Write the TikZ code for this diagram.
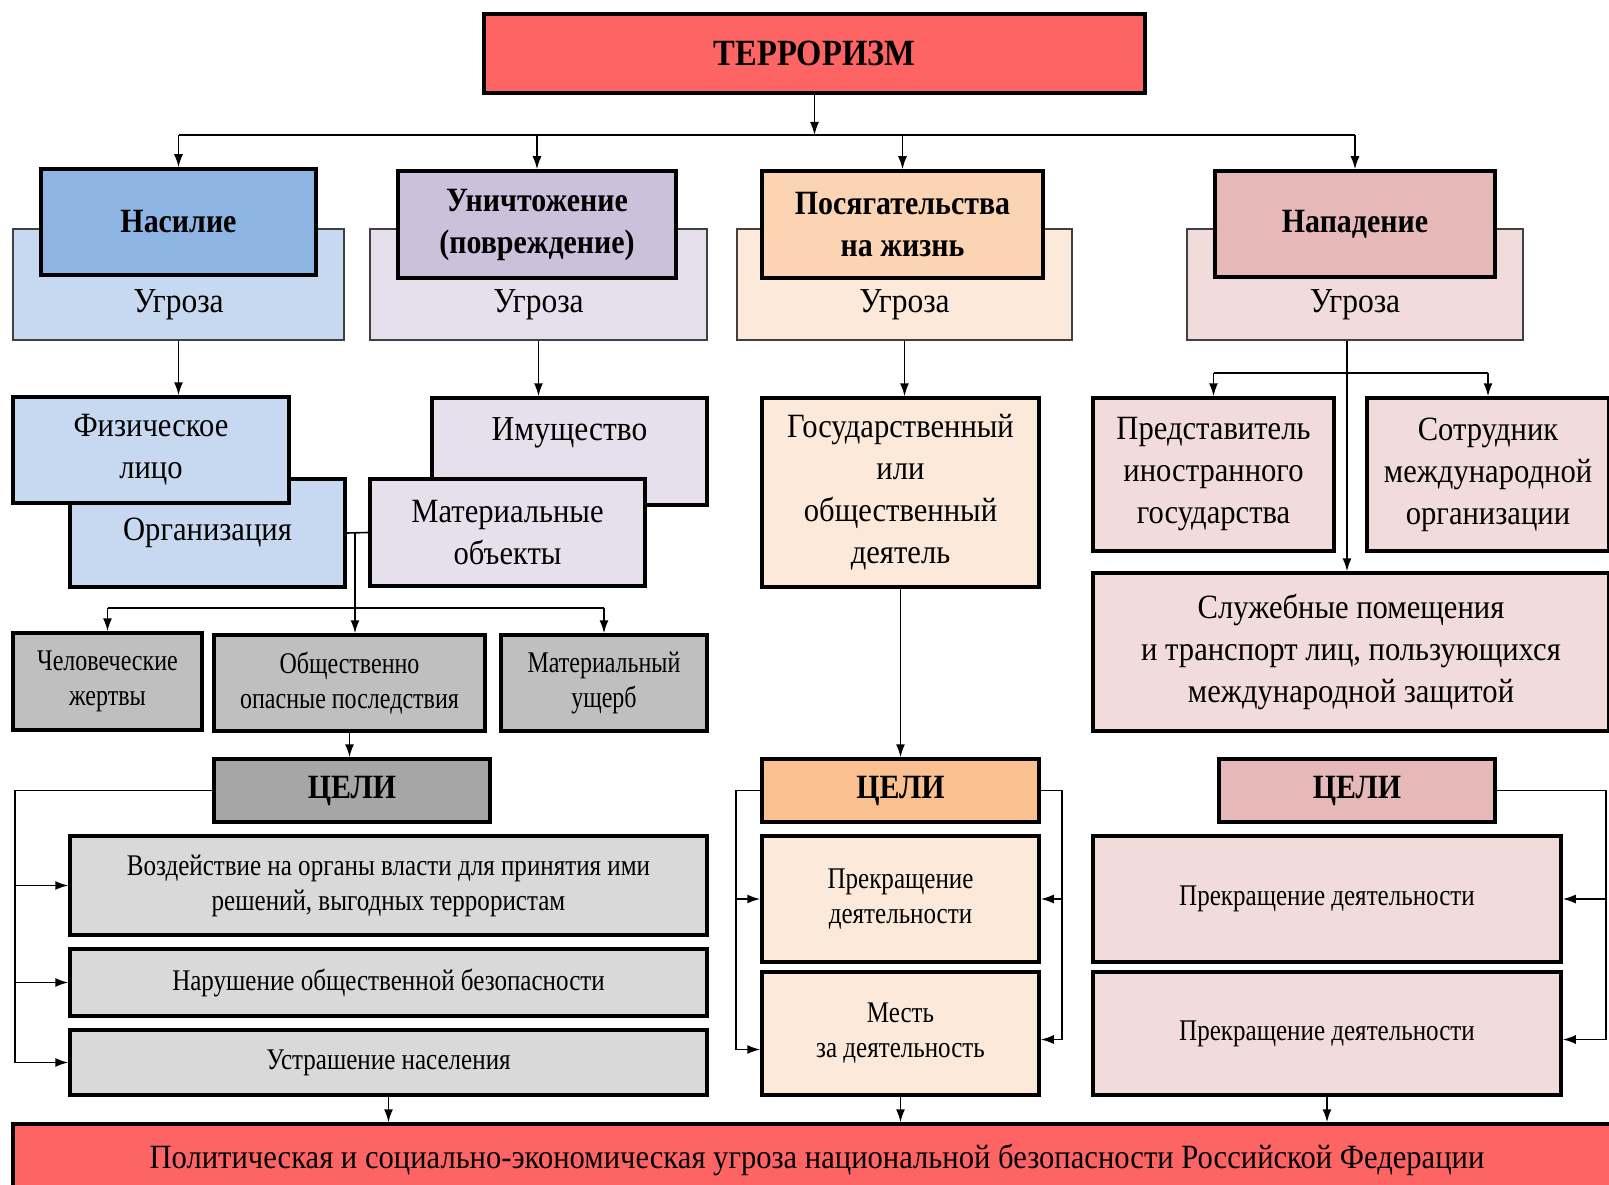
\documentclass[tikz,border=0pt]{standalone}
\usepackage{fontspec}
\setmainfont[FakeStretch=0.9, BoldFeatures={FakeStretch=0.88}]{Liberation Serif}
\newfontfamily\narrowfont[FakeStretch=0.8]{Liberation Serif}
\newfontfamily\goalfont[FakeStretch=0.835]{Liberation Serif}
\usetikzlibrary{arrows.meta}

\definecolor{terrred}{HTML}{FF6464}
\definecolor{bluedk}{HTML}{8DB4E2}
\definecolor{bluelt}{HTML}{C6D9F1}
\definecolor{lilacdk}{HTML}{CCC0DA}
\definecolor{lilaclt}{HTML}{E5E0EC}
\definecolor{peachdk}{HTML}{FBD4B4}
\definecolor{peachlt}{HTML}{FDE9D9}
\definecolor{orangecel}{HTML}{FAC090}
\definecolor{rosedk}{HTML}{E6B9B8}
\definecolor{roselt}{HTML}{F2DCDB}
\definecolor{graymid}{HTML}{BFBFBF}
\definecolor{graydk}{HTML}{A6A6A6}
\definecolor{graylt}{HTML}{D9D9D9}

\tikzset{
  box/.style={draw=black, line width=3.5pt, align=center, inner sep=0pt, font=\fontsize{34}{42}\selectfont},
  smallbox/.style={box, font=\narrowfont\fontsize{30}{35}\selectfont},
  goalbox/.style={box, font=\goalfont\fontsize{30}{35}\selectfont},
  backbox/.style={draw=black!75, line width=2pt, inner sep=0pt},
  txt/.style={inner sep=0pt, font=\fontsize{35}{42}\selectfont},
  arr/.style={line width=1.6pt, -{Latex[length=13pt,width=9pt]}},
  link/.style={line width=1.6pt}
}

\begin{document}
\begin{tikzpicture}[x=1pt,y=-1pt]
\useasboundingbox (0,0) rectangle (1609,1185);
\clip (0,0) rectangle (1609,1185);

% Top and bottom bars
\node[box, fill=terrred, minimum width=661pt, minimum height=79pt, font=\fontsize{37}{42}\selectfont] (terr) at (814.5,53.5) {\bfseries ТЕРРОРИЗМ};
\node[box, fill=terrred, minimum width=1608pt, minimum height=72pt] (bar) at (817,1160) {Политическая и социально-экономическая угроза национальной безопасности Российской Федерации};

% Four kinds of acts, with the threat behind each
\node[backbox, fill=bluelt, minimum width=331pt, minimum height=111pt] (vb1) at (178.5,284.5) {};
\node[backbox, fill=lilaclt, minimum width=337pt, minimum height=111pt] (vb2) at (538.5,284.5) {};
\node[backbox, fill=peachlt, minimum width=335pt, minimum height=111pt] (vb3) at (904.5,284.5) {};
\node[backbox, fill=roselt, minimum width=336pt, minimum height=111pt] (vb4) at (1355,284.5) {};
\node[txt] (ug1) at (178.5,305) {Угроза};
\node[txt] (ug2) at (538.5,305) {Угроза};
\node[txt] (ug3) at (904.5,305) {Угроза};
\node[txt] (ug4) at (1355,305) {Угроза};
\node[box, fill=bluedk, minimum width=275pt, minimum height=106pt] (f1) at (178.5,222) {\bfseries Насилие};
\node[box, fill=lilacdk, minimum width=278pt, minimum height=107pt] (f2) at (537,224.5) {\bfseries Уничтожение\\\bfseries (повреждение)};
\node[box, fill=peachdk, minimum width=281pt, minimum height=107pt] (f3) at (902.5,224.5) {\bfseries Посягательства\\\bfseries на жизнь};
\node[box, fill=rosedk, minimum width=280pt, minimum height=106pt] (f4) at (1355,224) {\bfseries Нападение};

% Objects
\node[box, fill=bluelt, minimum width=275pt, minimum height=108pt] (org) at (207.5,533) {Организация};
\node[box, fill=bluelt, minimum width=276pt, minimum height=106pt] (fiz) at (151,450) {Физическое\\лицо};
\node[box, fill=lilaclt, minimum width=275pt, minimum height=107pt] (imu) at (569.5,451.5) {};
\node[txt] (imut) at (569.5,433) {Имущество};
\node[box, fill=lilaclt, minimum width=275pt, minimum height=107pt] (mat) at (507.5,532.5) {Материальные\\объекты};
\node[box, fill=peachlt, minimum width=277pt, minimum height=189pt] (gos) at (900.5,492.5) {Государственный\\или\\общественный\\деятель};
\node[box, fill=roselt, minimum width=241pt, minimum height=153pt] (pr) at (1213.5,474.5) {Представитель\\иностранного\\государства};
\node[box, fill=roselt, minimum width=242pt, minimum height=153pt] (so) at (1488,474.5) {Сотрудник\\международной\\организации};
\node[box, fill=roselt, minimum width=516pt, minimum height=158pt] (sl) at (1351,652) {Служебные помещения\\и транспорт лиц, пользующихся\\международной защитой};

% Consequences
\node[smallbox, fill=graymid, minimum width=189pt, minimum height=97pt] (chel) at (107.5,681.5) {Человеческие\\жертвы};
\node[smallbox, fill=graymid, minimum width=271pt, minimum height=96pt] (obs) at (349.5,683) {Общественно\\опасные последствия};
\node[smallbox, fill=graymid, minimum width=206pt, minimum height=96pt] (mu) at (604,683) {Материальный\\ущерб};

% Goals
\node[box, fill=graydk, minimum width=276pt, minimum height=63pt] (cel1) at (352,790.5) {\bfseries ЦЕЛИ};
\node[box, fill=orangecel, minimum width=277pt, minimum height=63pt] (cel2) at (900.5,790.5) {\bfseries ЦЕЛИ};
\node[box, fill=rosedk, minimum width=276pt, minimum height=63pt] (cel3) at (1357,790.5) {\bfseries ЦЕЛИ};
\node[goalbox, fill=graylt, minimum width=637pt, minimum height=99pt] (g1) at (388.5,885.5) {Воздействие на органы власти для принятия ими\\решений, выгодных террористам};
\node[goalbox, fill=graylt, minimum width=637pt, minimum height=67pt] (g2) at (388.5,982.5) {Нарушение общественной безопасности};
\node[goalbox, fill=graylt, minimum width=637pt, minimum height=65pt] (g3) at (388.5,1062.5) {Устрашение населения};
\node[goalbox, fill=peachlt, minimum width=277pt, minimum height=126pt] (p1) at (900.5,899) {Прекращение\\деятельности};
\node[goalbox, fill=peachlt, minimum width=277pt, minimum height=123pt] (p2) at (900.5,1033.5) {Месть\\за деятельность};
\node[goalbox, fill=roselt, minimum width=468pt, minimum height=126pt] (q1) at (1327,899) {Прекращение деятельности};
\node[goalbox, fill=roselt, minimum width=468pt, minimum height=123pt] (q2) at (1327,1033.5) {Прекращение деятельности};

% Connectors from the top
\coordinate (bus) at (0,135);
\draw[arr] (terr.south) -- (terr.south |- bus);
\draw[link] (f1.north |- bus) -- (f4.north |- bus);
\foreach \f in {f1,f2,f3,f4}
  \draw[arr] (\f.north |- bus) -- (\f.north);

% Left column
\draw[arr] (vb1.south) -- (vb1.south |- fiz.north);
\draw[arr] (vb2.south) -- (vb2.south |- imu.north);
\draw[link] (org.east) -- (mat.west);
\coordinate (j1) at (355,533);
\coordinate (j2) at (355,608);
\draw[arr] (j1) -- (j1 |- obs.north);
\draw[link] (chel.north |- j2) -- (mu.north |- j2);
\draw[arr] (chel.north |- j2) -- (chel.north);
\draw[arr] (mu.north |- j2) -- (mu.north);
\draw[arr] (obs.south) -- (obs.south |- cel1.north);
\coordinate (br1) at (15,0);
\draw[link] (cel1.west) -| (br1 |- g3.west);
\foreach \g in {g1,g2,g3}
  \draw[arr] (br1 |- \g.west) -- (\g.west);
\draw[arr] (g3.south) -- (g3.south |- bar.north);

% Middle column
\draw[arr] (vb3.south) -- (vb3.south |- gos.north);
\draw[arr] (gos.south) -- (gos.south |- cel2.north);
\coordinate (br2) at (736,0);
\coordinate (br3) at (1062,0);
\coordinate (p2l) at ([yshift=-16pt]p2.west);
\coordinate (p2r) at ([yshift=-6pt]p2.east);
\draw[link] (cel2.west) -| (br2 |- p2l);
\draw[arr] (br2 |- p1.west) -- (p1.west);
\draw[arr] (br2 |- p2l) -- (p2l);
\draw[link] (cel2.east) -| (br3 |- p2r);
\draw[arr] (br3 |- p1.east) -- (p1.east);
\draw[arr] (br3 |- p2r) -- (p2r);
\draw[arr] (p2.south) -- (p2.south |- bar.north);

% Right column
\coordinate (j3) at ([xshift=-8pt]vb4.south);
\coordinate (j4) at (0,373);
\draw[arr] (j3) -- (j3 |- sl.north);
\draw[link] (pr.north |- j4) -- (so.north |- j4);
\draw[arr] (pr.north |- j4) -- (pr.north);
\draw[arr] (so.north |- j4) -- (so.north);
\coordinate (br4) at (1606,0);
\coordinate (q2r) at ([yshift=-6pt]q2.east);
\draw[link] (cel3.east) -| (br4 |- q2r);
\draw[arr] (br4 |- q1.east) -- (q1.east);
\draw[arr] (br4 |- q2r) -- (q2r);
\draw[arr] (q2.south) -- (q2.south |- bar.north);
\end{tikzpicture}
\end{document}
